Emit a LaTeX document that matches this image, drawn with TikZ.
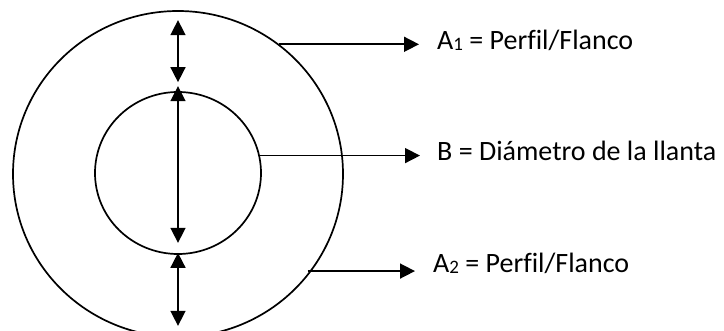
\documentclass[tikz,border=0pt]{standalone}
\usepackage{fontspec}
\setmainfont[Ligatures=NoCommon]{Carlito}
\usetikzlibrary{arrows.meta,shapes.geometric}
% small index digit set on the baseline
\newcommand\subnum[1]{\raisebox{-1pt}{\fontsize{19}{21}\selectfont #1}}
\begin{document}
\begin{tikzpicture}[x=1pt,y=-1pt,
  ring/.style={ellipse,draw,line width=1.7pt,inner sep=0pt},
  dimarrow/.style={line width=1.6pt,
    {Triangle[length=15pt,width=15pt]}-{Triangle[length=15pt,width=15pt]}},
  leader/.style={line width=1.6pt,-{Triangle[length=15pt,width=15pt]}},
  lbl/.style={anchor=base west,inner sep=0pt,font=\fontsize{28}{31}\selectfont}]
\useasboundingbox (0,0) rectangle (724,331);

% tyre and rim
\node[ring,minimum width=330pt,minimum height=326pt] (outer) at (178,174) {};
\node[ring,minimum width=166pt,minimum height=162pt] (inner) at (178,173) {};

% dimension arrows
\draw[dimarrow] ([yshift=-10pt]outer.north) -- ([yshift=9pt]inner.north);
\draw[dimarrow] ([yshift=5pt]inner.north) -- ([yshift=12pt]inner.south);
\draw[dimarrow] ([yshift=2pt]inner.south) -- ([yshift=12pt]outer.south);

% labels
\node[lbl] (a1) at (437,50) {A\subnum{1} = Perfil/Flanco};
\node[lbl] (b) at (437,161) {B = Diámetro de la llanta};
\node[lbl] (a2) at (433,272.7) {A\subnum{2} = Perfil/Flanco};

% arrow tips in front of the labels
\coordinate (a1tip) at (419,41.7);
\coordinate (btip) at (420,155);
\coordinate (a2tip) at (419,269);

% leader lines
\draw[leader] (outer.52) -- (outer.52 -| a1tip);
\draw[leader] (inner.12) -- (inner.12 -| btip);
\draw[leader] ([xshift=-4pt]outer.-36) -- ([xshift=-4pt]outer.-36 -| a2tip);
\end{tikzpicture}
\end{document}
